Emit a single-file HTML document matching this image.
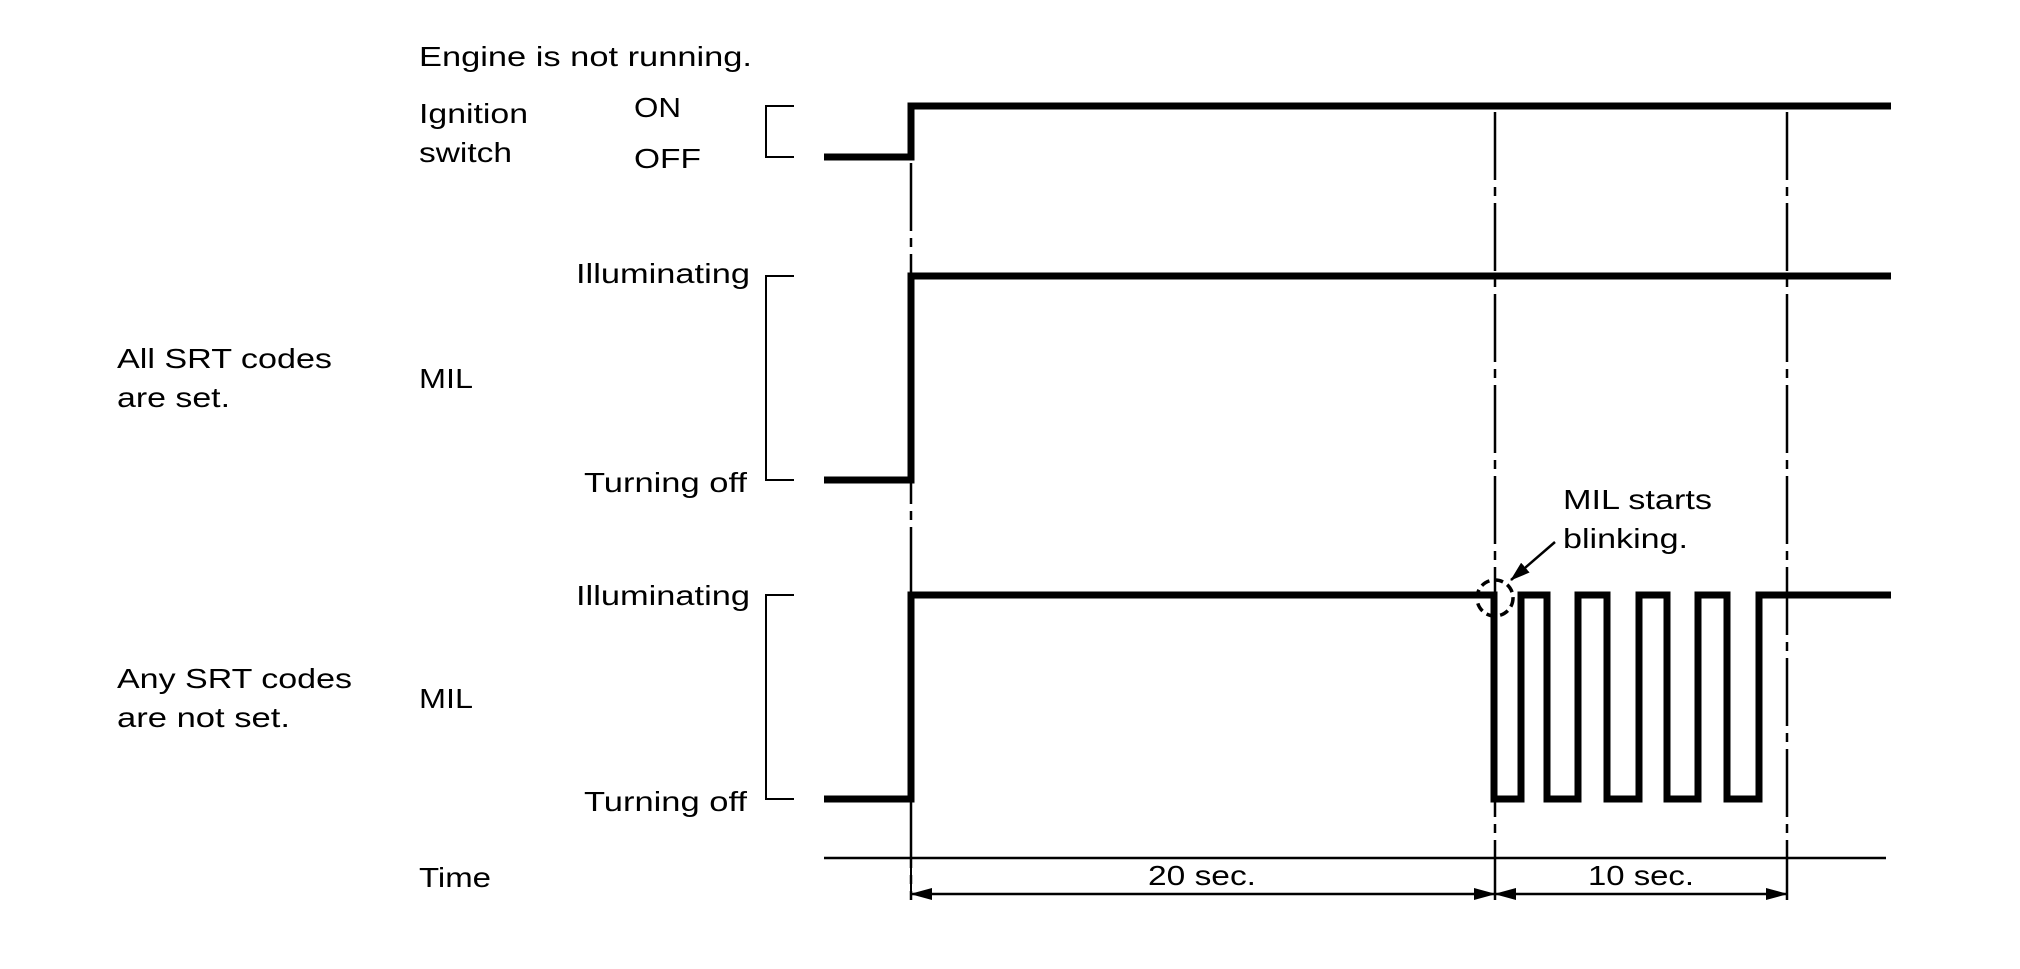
<!DOCTYPE html>
<html><head><meta charset="utf-8"><style>
html,body{margin:0;padding:0;background:#fff;}
svg{display:block;}
text{font-family:"Liberation Sans",Arial,sans-serif;font-size:28px;fill:#000;}
</style></head><body>
<svg width="2020" height="969" viewBox="0 0 2020 969" xmlns="http://www.w3.org/2000/svg">
<defs>
<marker id="ah" markerWidth="22" markerHeight="12" refX="21" refY="6" orient="auto" markerUnits="userSpaceOnUse">
<path d="M0,0 L22,6 L0,12 Z" fill="#000"/></marker>
<marker id="ah2" markerWidth="20" markerHeight="13" refX="19" refY="6.5" orient="auto" markerUnits="userSpaceOnUse">
<path d="M0,0 L20,6.5 L0,13 Z" fill="#000"/></marker>
</defs>

<g stroke="#000" stroke-width="2.5" stroke-dasharray="68 7 9 7" fill="none">
<line x1="911" y1="163" x2="911" y2="900"/>
<line x1="1495" y1="112" x2="1495" y2="900"/>
<line x1="1787" y1="112" x2="1787" y2="900"/>
</g>

<g stroke="#000" stroke-width="2" fill="none">
<polyline points="794,106 766,106 766,157 794,157"/>
<polyline points="794,276 766,276 766,480 794,480"/>
<polyline points="794,595 766,595 766,799 794,799"/>
</g>

<g stroke="#000" stroke-width="7" fill="none" stroke-linejoin="miter" stroke-linecap="butt">
<polyline points="824,157 911,157 911,106 1891,106"/>
<polyline points="824,480 911,480 911,276 1891,276"/>
<polyline points="824,799 911,799 911,595 1494,595 1494,799 1521,799 1521,595 1547,595 1547,799 1578,799 1578,595 1607,595 1607,799 1639,799 1639,595 1667,595 1667,799 1698,799 1698,595 1727,595 1727,799 1759,799 1759,595 1891,595"/>
</g>

<circle cx="1495" cy="598" r="18" fill="none" stroke="#000" stroke-width="3.5" stroke-dasharray="9 5"/>
<line x1="1555" y1="542" x2="1511" y2="580" stroke="#000" stroke-width="2.5" marker-end="url(#ah2)"/>

<line x1="824" y1="858" x2="1886" y2="858" stroke="#000" stroke-width="2.5"/>
<line x1="911" y1="858" x2="911" y2="900" stroke="#000" stroke-width="2"/>
<line x1="1495" y1="858" x2="1495" y2="900" stroke="#000" stroke-width="2"/>
<line x1="1787" y1="858" x2="1787" y2="900" stroke="#000" stroke-width="2"/>
<g stroke="#000" stroke-width="2.5">
<line x1="1200" y1="894" x2="911" y2="894" marker-end="url(#ah)"/>
<line x1="1200" y1="894" x2="1495" y2="894" marker-end="url(#ah)"/>
<line x1="1640" y1="894" x2="1495" y2="894" marker-end="url(#ah)"/>
<line x1="1640" y1="894" x2="1787" y2="894" marker-end="url(#ah)"/>
</g>

<text x="419" y="66" textLength="333" lengthAdjust="spacingAndGlyphs">Engine is not running.</text>
<text x="419" y="123" textLength="109" lengthAdjust="spacingAndGlyphs">Ignition</text>
<text x="419" y="162" textLength="93" lengthAdjust="spacingAndGlyphs">switch</text>
<text x="634" y="117" textLength="47" lengthAdjust="spacingAndGlyphs">ON</text>
<text x="634" y="168" textLength="67" lengthAdjust="spacingAndGlyphs">OFF</text>
<text x="576" y="283" textLength="174" lengthAdjust="spacingAndGlyphs">Illuminating</text>
<text x="584" y="492" textLength="163" lengthAdjust="spacingAndGlyphs">Turning off</text>
<text x="117" y="368" textLength="215" lengthAdjust="spacingAndGlyphs">All SRT codes</text>
<text x="117" y="407" textLength="113" lengthAdjust="spacingAndGlyphs">are set.</text>
<text x="419" y="388" textLength="54" lengthAdjust="spacingAndGlyphs">MIL</text>
<text x="576" y="605" textLength="174" lengthAdjust="spacingAndGlyphs">Illuminating</text>
<text x="584" y="811" textLength="163" lengthAdjust="spacingAndGlyphs">Turning off</text>
<text x="117" y="688" textLength="235" lengthAdjust="spacingAndGlyphs">Any SRT codes</text>
<text x="117" y="727" textLength="173" lengthAdjust="spacingAndGlyphs">are not set.</text>
<text x="419" y="708" textLength="54" lengthAdjust="spacingAndGlyphs">MIL</text>
<text x="419" y="887" textLength="72" lengthAdjust="spacingAndGlyphs">Time</text>
<text x="1148" y="885" textLength="108" lengthAdjust="spacingAndGlyphs">20 sec.</text>
<text x="1588" y="885" textLength="106" lengthAdjust="spacingAndGlyphs">10 sec.</text>
<text x="1563" y="509" textLength="149" lengthAdjust="spacingAndGlyphs">MIL starts</text>
<text x="1563" y="548" textLength="125" lengthAdjust="spacingAndGlyphs">blinking.</text>
</svg>
</body></html>
